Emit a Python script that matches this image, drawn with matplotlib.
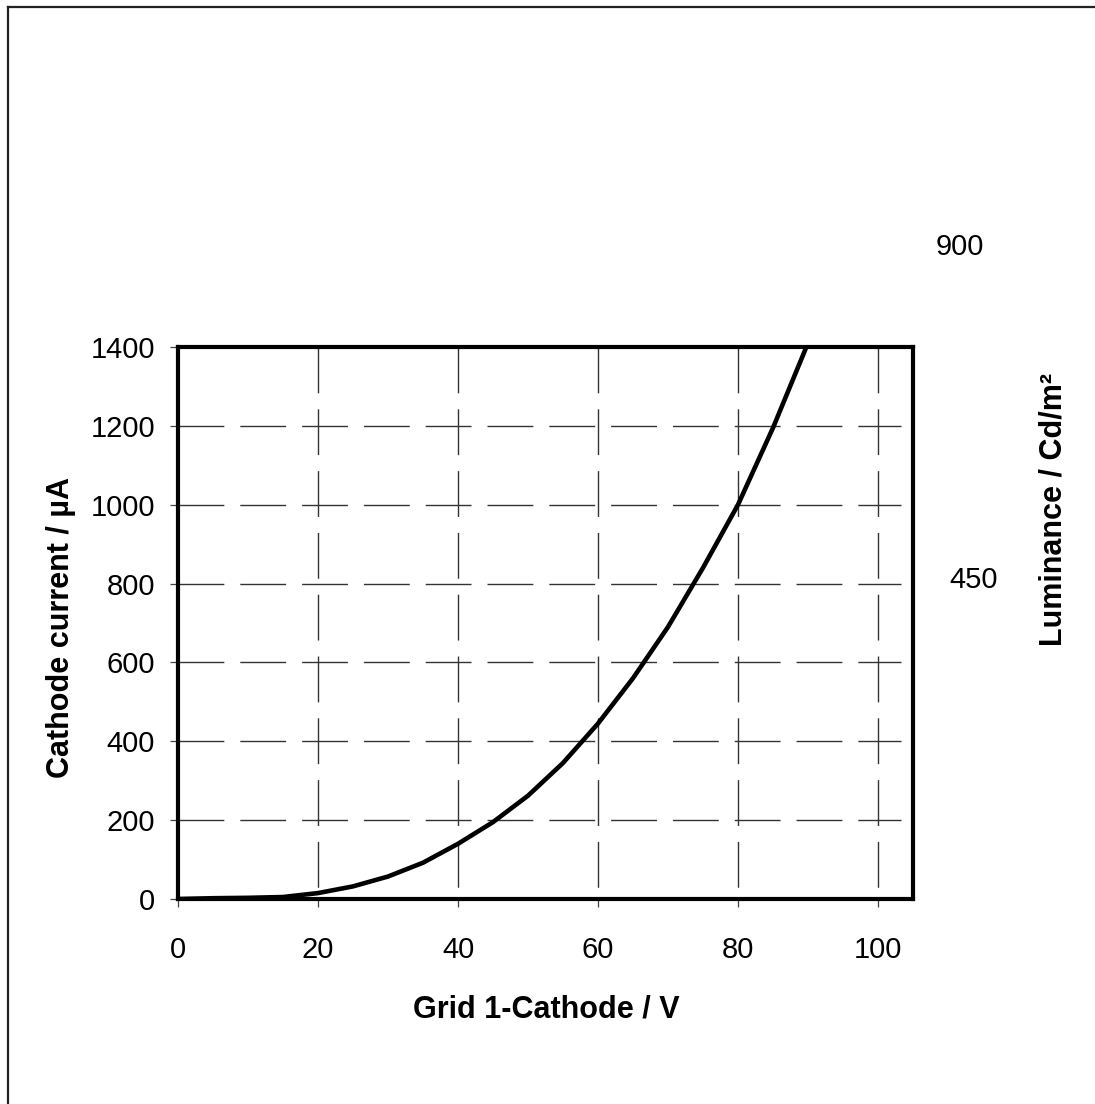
import matplotlib.pyplot as plt
from matplotlib.lines import Line2D

plt.rcParams['font.family'] = ['Liberation Sans', 'DejaVu Sans']

# curve
grid_v = [0, 5, 10, 15, 20, 25, 30, 35, 40, 45, 50, 55, 60, 65, 70, 75, 80, 85, 90]
current = [0, 2, 3, 5, 15, 32, 57, 92, 140, 195, 262, 345, 445, 560, 690, 840, 1000, 1195, 1410]

x_ticks = [0, 20, 40, 60, 80, 100]
y_ticks = [0, 200, 400, 600, 800, 1000, 1200, 1400]
lum_ticks = ['450', '900']

W, H = 1095, 1104
fig = plt.figure(figsize=(W / 100, H / 100), dpi=100)
ax = fig.add_axes([178 / W, 1 - 899 / H, (913 - 178) / W, (899 - 347) / H])

ax.set_xlim(0, 105)
ax.set_ylim(0, 1400)

dash = (0, (33, 11.5))
for yv in y_ticks[1:-1]:
    ax.plot([0, 103.3], [yv, yv], color='#333333', lw=1.0, ls=dash, zorder=1)
for xv in x_ticks[1:]:
    ax.plot([xv, xv], [1400, 0], color='#333333', lw=1.0, ls=dash, zorder=1)

ax.plot(grid_v, current, color='black', lw=3.3, zorder=3, solid_capstyle='butt')

for s in ax.spines.values():
    s.set_linewidth(3)
    s.set_color('black')
    s.set_zorder(4)

ax.set_xticks(x_ticks)
ax.set_yticks(y_ticks)
ax.tick_params(axis='y', direction='out', length=6, width=0.9, color='#444444',
               labelsize=21, pad=10.5)
ax.tick_params(axis='x', direction='out', length=6, width=0.9, color='#444444',
               labelsize=21, pad=20.5)

fig.text(546 / W, 1 - 1009 / H, 'Grid 1-Cathode / V', ha='center', va='center',
         fontsize=22, fontweight='bold')
fig.text(61 / W, 1 - 628 / H, 'Cathode current / µA', ha='center', va='center',
         rotation=90, fontsize=22, fontweight='bold')
fig.text(1053 / W, 1 - 509 / H, 'Luminance / Cd/m²', ha='center', va='center',
         rotation=90, fontsize=22, fontweight='bold')

fig.text(974 / W, 1 - 580 / H, lum_ticks[0], ha='center', va='center', fontsize=21)
fig.text(960 / W, 1 - 247 / H, lum_ticks[1], ha='center', va='center', fontsize=21)

# border on left and top of the picture
fig.add_artist(Line2D([7.5 / W, 7.5 / W], [0, 1 - 6.5 / H], color='#222222', lw=1.6))
fig.add_artist(Line2D([7.5 / W, 1], [1 - 6.5 / H, 1 - 6.5 / H], color='#222222', lw=1.6))

fig.savefig('out.png', dpi=100)
